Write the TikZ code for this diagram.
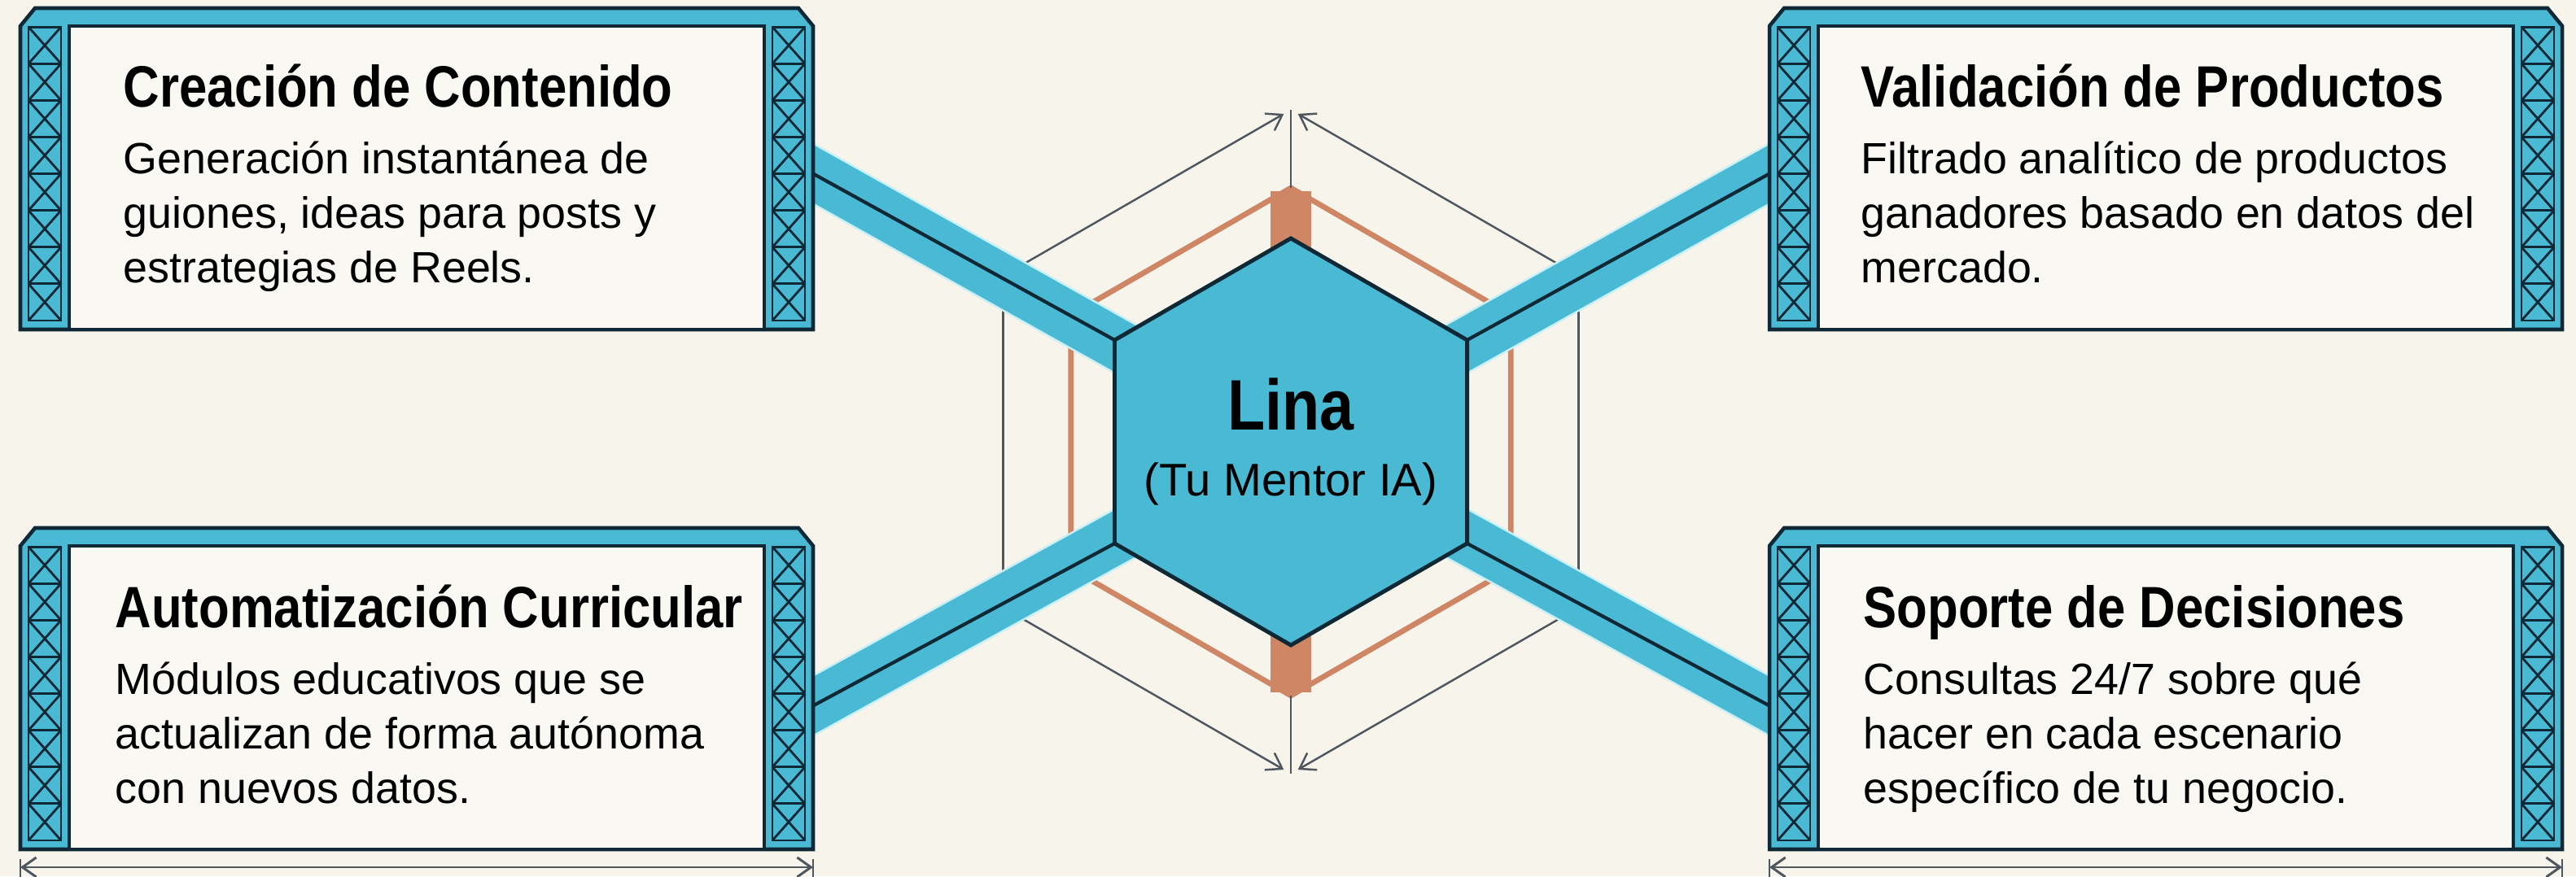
\documentclass[tikz,border=0pt]{standalone}
\usepackage{fontspec}
\setmainfont{Liberation Sans}
\newfontfamily\headfont{Liberation Sans}[FakeStretch=0.86]
\usetikzlibrary{arrows.meta,positioning,calc,shapes.geometric}
\definecolor{paper}{RGB}{247,244,235}
\definecolor{sheet}{RGB}{250,248,242}
\definecolor{truss}{RGB}{74,185,212}
\definecolor{trussEdge}{RGB}{200,240,246}
\definecolor{ink}{RGB}{14,40,54}
\definecolor{ember}{RGB}{206,134,100}
\definecolor{gaugeGray}{RGB}{78,86,94}
\tikzset{mentormap/.style={
  font=\fontsize{15.3}{19.2}\selectfont,
  trussframe/.style={minimum width=9.74cm, minimum height=3.95cm, inner sep=0pt, outer sep=0pt, draw=none},
  beam/.style={fill=truss, draw=ink, line width=1.3pt, line join=miter},
  sheetbox/.style={fill=sheet, draw=ink, line width=1.3pt},
  brace/.style={draw=ink, line width=0.8pt},
  hexa/.style={regular polygon, regular polygon sides=6, shape border rotate=30, inner sep=0pt, outer sep=0pt},
  hub/.style={hexa, minimum size=5cm, fill=truss, draw=ink, line width=1.4pt},
  halo/.style={hexa, minimum size=6.24cm, draw=ember, line width=1.9pt},
  gaugebox/.style={hexa, minimum size=8.16cm, draw=none},
  hairline/.style={draw=gaugeGray, line width=0.7pt},
  measure/.style={hairline, -{Straight Barb[length=1.8mm,width=2.4mm]}, shorten >=0.1cm},
  link/.style={line width=0.62cm, truss, shorten <=-0.4cm},
  spine/.style={line width=1.2pt, ink},
  headline/.style={anchor=base west, inner sep=0pt, font=\headfont\bfseries\fontsize{20.4}{24}\selectfont},
  blurb/.style={anchor=base west, inner sep=0pt, align=left},
  span/.style={hairline, line width=0.85pt, {Straight Barb[length=1.7mm,width=2.4mm]}-{Straight Barb[length=1.7mm,width=2.4mm]}},
}}

\begin{document}
\begin{tikzpicture}[mentormap]
\useasboundingbox (0,0) rectangle (31.65,10.77);
\fill[paper] (0,0) rectangle (31.65,10.77);

% ---- frames (placed first, drawn later) ----
\node[trussframe] (tl) at (5.12,8.695) {};
\node[trussframe] (tr) at (26.61,8.695) {};
\node[trussframe] (bl) at (5.12,2.305) {};
\node[trussframe] (br) at (26.61,2.305) {};

% ---- centre: gauge lines and orange halo ----
\coordinate (core) at (15.86,5.34);
\node[gaugebox] (gauge) at (core) {};
\draw[hairline] (gauge.150) -- (gauge.210);
\draw[hairline] (gauge.30) -- (gauge.330);
\draw[measure] (gauge.150) -- (gauge.90);
\draw[measure] (gauge.30) -- (gauge.90);
\draw[measure] (gauge.210) -- (gauge.270);
\draw[measure] (gauge.330) -- (gauge.270);

\node[halo] (halo) at (core) {};
\fill[ember] ($(halo.90)+(-0.25,-0.04)$) rectangle ++(0.5,-0.72);
\fill[ember] ($(halo.270)+(-0.25,0.04)$) rectangle ++(0.5,0.72);
\draw[hairline] (gauge.90) -- (halo.90);
\draw[hairline] (halo.270) -- (gauge.270);

% ---- links from the frames to the hub ----
\coordinate (tlport) at ($(tl.east)+(0,-0.06)$);
\coordinate (trport) at ($(tr.west)+(0,-0.06)$);
\coordinate (blport) at ($(bl.east)+(0,-0.21)$);
\coordinate (brport) at ($(br.west)+(0,-0.21)$);
\foreach \a in {30,150,210,330}
  \coordinate (corner\a) at ($(core)+(\a:2.5)$);
\foreach \p/\a in {tlport/150,trport/30,blport/210,brport/330}{
  \draw[link, trussEdge, line width=0.67cm] (\p) -- (core);
  \draw[link] (\p) -- (core);
  \draw[spine] (\p) -- (corner\a);
}

% ---- hub ----
\node[hub] (hub) at (core) {};
\node[anchor=base, inner sep=0pt, font=\headfont\bfseries\fontsize{25}{30}\selectfont] (lina) at ($(core)+(0,0.14)$) {Lina};
\node[anchor=base, inner sep=0pt, font=\fontsize{16}{19}\selectfont] (role) at ($(core)+(0,-0.67)$) {(Tu Mentor IA)};

% ---- truss frames ----
\foreach \nm in {tl,tr,bl,br}{
  \draw[beam] (\nm.south west) -- ($(\nm.north west)+(0,-0.22)$) -- ($(\nm.north west)+(0.18,0)$)
    -- ($(\nm.north east)+(-0.18,0)$) -- ($(\nm.north east)+(0,-0.22)$) -- (\nm.south east) -- cycle;
  \draw[sheetbox] ($(\nm.south west)+(0.60,0)$) rectangle ($(\nm.north east)+(-0.60,-0.22)$);
  \foreach \s in {0.10,9.24}{
    \foreach \k in {0,...,7}{
      \path ($(\nm.south west)+(\s,0.11+\k*0.451)$) coordinate (cell);
      \draw[brace] (cell) rectangle ++(0.40,0.451);
      \draw[brace] (cell) -- ++(0.40,0.451);
      \draw[brace] ($(cell)+(0,0.451)$) -- ++(0.40,-0.451);
    }
  }
}

% ---- texts (blurb anchored on its last line) ----
\node[headline] (tlhead) at (1.51,9.45) {Creación de Contenido};
\node[blurb] (tltext) at (1.51,7.29) {Generación instantánea de\\guiones, ideas para posts y\\estrategias de Reels.};
\node[headline] (trhead) at (22.86,9.45) {Validación de Productos};
\node[blurb] (trtext) at (22.86,7.29) {Filtrado analítico de productos\\ganadores basado en datos del\\mercado.};
\node[headline] (blhead) at (1.41,3.05) {Automatización Curricular};
\node[blurb] (bltext) at (1.41,0.89) {Módulos educativos que se\\actualizan de forma autónoma\\con nuevos datos.};
\node[headline] (brhead) at (22.89,3.05) {Soporte de Decisiones};
\node[blurb] (brtext) at (22.89,0.89) {Consultas 24/7 sobre qué\\hacer en cada escenario\\específico de tu negocio.};

% ---- width rules under the lower frames ----
\foreach \nm in {bl,br}{
  \coordinate (\nm ruleL) at ($(\nm.south west)+(0,-0.22)$);
  \coordinate (\nm ruleR) at ($(\nm.south east)+(0,-0.22)$);
  \draw[span] (\nm ruleL) -- (\nm ruleR);
  \draw[hairline] ($(\nm ruleL)+(0,-0.12)$) -- ++(0,0.22);
  \draw[hairline] ($(\nm ruleR)+(0,-0.12)$) -- ++(0,0.22);
}
\end{tikzpicture}
\end{document}
